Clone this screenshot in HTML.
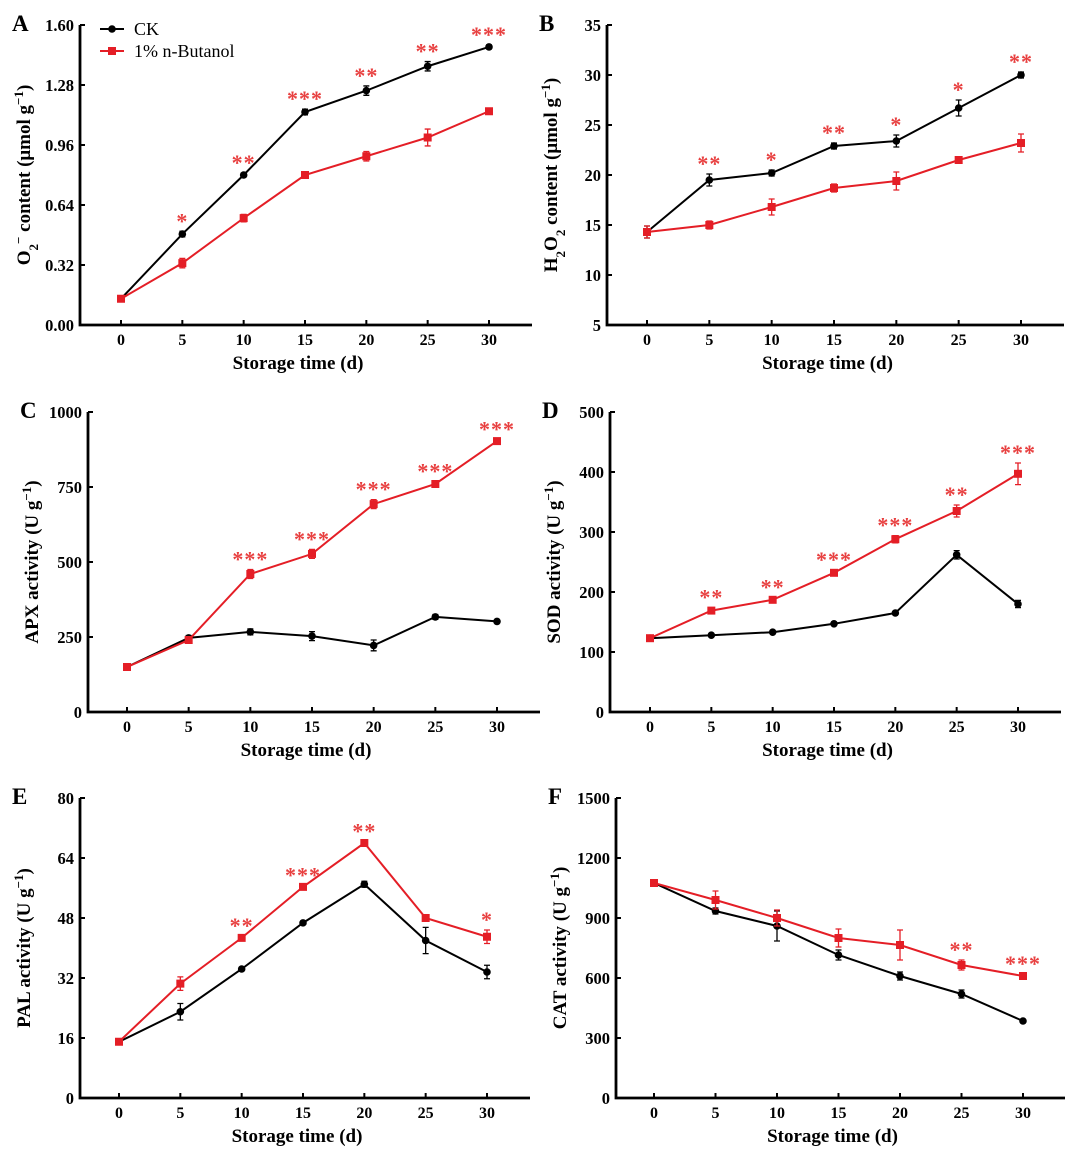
<!DOCTYPE html>
<html><head><meta charset="utf-8">
<style>
body{margin:0;background:#fff;}
svg{display:block;font-family:"Liberation Serif",serif;}
</style></head>
<body>
<svg id="fig" width="1080" height="1154" viewBox="0 0 1080 1154" xmlns="http://www.w3.org/2000/svg"></svg>
<script>
const days = [0,5,10,15,20,25,30];
const aCK = [0.14,0.485,0.80,1.136,1.25,1.38,1.483];
const aBu = [0.14,0.33,0.57,0.80,0.90,1.00,1.14];
const aCKe = [0.01,0.015,0.01,0.015,0.025,0.025,0.01];
const aBue = [0.01,0.025,0.02,0.01,0.025,0.045,0.015];
const aStars = ["","*","**","***","**","**","***"];
const aTicks = [0,0.32,0.64,0.96,1.28,1.6];
const aTickLabels = ["0.00","0.32","0.64","0.96","1.28","1.60"];
const bCK = [14.3,19.5,20.2,22.9,23.4,26.7,30.0];
const bBu = [14.3,15.0,16.8,18.7,19.4,21.5,23.2];
const bCKe = [0.6,0.6,0.3,0.3,0.6,0.8,0.3];
const bBue = [0.6,0.4,0.8,0.4,0.9,0.2,0.9];
const bStars = ["","**","*","**","*","*","**"];
const bTicks = [5,10,15,20,25,30,35];
const cCK = [150,247,267,253,222,317,302];
const cBu = [150,240,460,527,693,760,903];
const cCKe = [8,8,10,15,18,8,5];
const cBue = [8,8,15,15,15,8,5];
const cStars = ["","","***","***","***","***","***"];
const cTicks = [0,250,500,750,1000];
const dCK = [123,128,133,147,165,262,180];
const dBu = [123,169,187,232,288,335,397];
const dCKe = [2,2,2,2,2,7,6];
const dBue = [3,5,4,5,6,10,18];
const dStars = ["","**","**","***","***","**","***"];
const dTicks = [0,100,200,300,400,500];
const eCK = [15,23,34.4,46.7,57,42,33.6];
const eBu = [15,30.5,42.7,56.3,68,48,43];
const eCKe = [0.5,2.2,0.4,0.4,0.8,3.5,1.8];
const eBue = [0.5,1.8,0.5,0.4,0.4,0.5,1.8];
const eStars = ["","","**","***","**","","*"];
const eTicks = [0,16,32,48,64,80];
const fCK = [1075,935,860,715,610,520,385];
const fBu = [1075,990,900,800,765,665,610];
const fCKe = [10,15,75,25,20,20,5];
const fBue = [10,45,40,45,75,25,10];
const fStars = ["","","","","","**","***"];
const fTicks = [0,300,600,900,1200,1500];

const NS="http://www.w3.org/2000/svg";
const svg=document.getElementById('fig');
function mk(tag,attrs,parent){const e=document.createElementNS(NS,tag);for(const k in attrs)e.setAttribute(k,attrs[k]);(parent||svg).appendChild(e);return e;}
const RED="#e41e26", STAR="#e84040";

function panel(o){
  const g=mk('g',{});
  
  
  const xs=d=>o.x0+(d-days[0])/(30-0)*(o.x30-o.x0);
  const ys=v=>o.B-(v-o.ymin)/(o.ymax-o.ymin)*(o.B-o.T);
  const lt=mk('text',{x:o.L-68,y:o.T+6,'font-size':23,'font-weight':'bold'},g);lt.textContent=o.letter;
  
  const ax=mk('path',{d:`M${o.L},${o.T} V${o.B} H${o.R}`,stroke:'#000','stroke-width':2.8,fill:'none'},g);
  
  o.ticks.forEach((t,i)=>{
    const y=ys(t);
    mk('line',{x1:o.L,x2:o.L+5,y1:y,y2:y,stroke:'#000','stroke-width':2},g);
    const tx=mk('text',{x:o.L-6,y:y+6,'font-size':16.5,'font-weight':'bold','text-anchor':'end'},g);
    tx.textContent=o.labels?o.labels[i]:String(t);
    
  });
  days.forEach(d=>{
    const x=xs(d);
    mk('line',{x1:x,x2:x,y1:o.B,y2:o.B-5,stroke:'#000','stroke-width':2},g);
    const tx=mk('text',{x:x,y:o.B+20,'font-size':16,'font-weight':'bold','text-anchor':'middle'},g);
    tx.textContent=String(d);
    
  });
  const xt=mk('text',{x:(o.L+o.R)/2-8,y:o.B+44,'font-size':19,'font-weight':'bold','text-anchor':'middle'},g);
  xt.textContent='Storage time (d)';
  
  const cy=(o.T+o.B)/2, cx=o.L-50;
  const yt=mk('text',{x:cx,y:cy,'font-size':19,'font-weight':'bold','text-anchor':'middle',transform:`rotate(-90 ${cx} ${cy})`},g);
  yt.innerHTML=o.ylabel;
  
  [[o.ck,o.cke,'#000','ck'],[o.bu,o.bue,RED,'butanol']].forEach(([vals,errs,col,nm])=>{
    const pts=vals.map((v,i)=>xs(days[i])+','+ys(v)).join(' ');
    const pl=mk('polyline',{points:pts,fill:'none',stroke:col,'stroke-width':2},g);
    
    vals.forEach((v,i)=>{
      const x=xs(days[i]),y1=ys(v-errs[i]),y2=ys(v+errs[i]);
      mk('path',{d:`M${x},${y1}V${y2}M${x-3},${y1}h6M${x-3},${y2}h6`,stroke:col,'stroke-width':1.3,fill:'none'},g);
      let m;
      if(nm==='ck') m=mk('circle',{cx:x,cy:ys(v),r:3.8,fill:col},g);
      else m=mk('rect',{x:x-4,y:ys(v)-4,width:8,height:8,fill:col},g);
      
    });
  });
  o.stars.forEach((s,i)=>{
    if(!s)return;
    const top=Math.max(o.ck[i]+o.cke[i],o.bu[i]+o.bue[i]);
    const st=mk('text',{x:xs(days[i]),y:ys(top)-3,'font-size':22,'font-weight':'bold',fill:STAR,'text-anchor':'middle','letter-spacing':1},g);
    st.textContent=s;
    
  });
}
const ug='activity (U g<tspan baseline-shift="super" font-size="13">−1</tspan>)';
panel({letter:'A',L:80,x0:121,x30:489,R:532,T:25,B:325,ymin:0,ymax:1.6,ticks:aTicks,labels:aTickLabels,ck:aCK,bu:aBu,cke:aCKe,bue:aBue,stars:aStars,
 ylabel:'O<tspan baseline-shift="sub" font-size="13">2</tspan><tspan baseline-shift="super" font-size="13">−</tspan> content (μmol g<tspan baseline-shift="super" font-size="13">−1</tspan>)'});
panel({letter:'B',L:607,x0:647,x30:1021,R:1064,T:25,B:325,ymin:5,ymax:35,ticks:bTicks,ck:bCK,bu:bBu,cke:bCKe,bue:bBue,stars:bStars,
 ylabel:'H<tspan baseline-shift="sub" font-size="13">2</tspan>O<tspan baseline-shift="sub" font-size="13">2</tspan> content (μmol g<tspan baseline-shift="super" font-size="13">−1</tspan>)'});
panel({letter:'C',L:88,x0:127,x30:497,R:540,T:412,B:712,ymin:0,ymax:1000,ticks:cTicks,ck:cCK,bu:cBu,cke:cCKe,bue:cBue,stars:cStars,ylabel:'APX '+ug});
panel({letter:'D',L:610,x0:650,x30:1018,R:1061,T:412,B:712,ymin:0,ymax:500,ticks:dTicks,ck:dCK,bu:dBu,cke:dCKe,bue:dBue,stars:dStars,ylabel:'SOD '+ug});
panel({letter:'E',L:80,x0:119,x30:487,R:530,T:798,B:1098,ymin:0,ymax:80,ticks:eTicks,ck:eCK,bu:eBu,cke:eCKe,bue:eBue,stars:eStars,ylabel:'PAL '+ug});
panel({letter:'F',L:616,x0:654,x30:1023,R:1065,T:798,B:1098,ymin:0,ymax:1500,ticks:fTicks,ck:fCK,bu:fBu,cke:fCKe,bue:fBue,stars:fStars,ylabel:'CAT '+ug});

const lg=mk('g',{});


mk('line',{x1:100,x2:124,y1:29,y2:29,stroke:'#000','stroke-width':2},lg);
mk('circle',{cx:112,cy:29,r:3.8,fill:'#000'},lg);
const l1=mk('text',{x:134,y:35,'font-size':18},lg);l1.textContent='CK';

mk('line',{x1:100,x2:124,y1:51,y2:51,stroke:RED,'stroke-width':2},lg);
mk('rect',{x:108,y:47,width:8,height:8,fill:RED},lg);
const l2=mk('text',{x:134,y:57,'font-size':18},lg);l2.textContent='1% n-Butanol';

</script>
</body></html>
